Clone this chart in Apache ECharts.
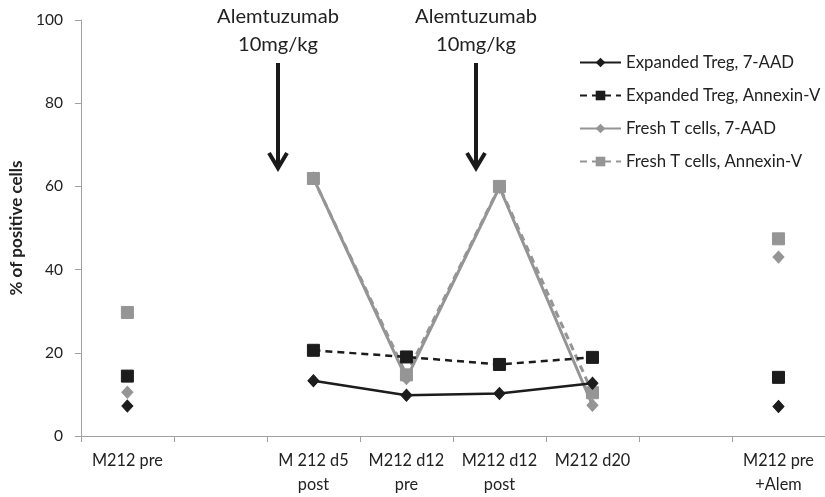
<!DOCTYPE html>
<html>
<head>
<meta charset="utf-8">
<script src="https://cdn.jsdelivr.net/npm/echarts@6/dist/echarts.min.js"></script>
<style>html,body{margin:0;padding:0;background:#fff;}#c{width:825px;height:497px;}</style>
</head>
<body>
<div id="c"></div>
<script>
var categories = ["M212 pre", "", "M 212 d5\npost", "M212 d12\npre", "M212 d12\npost", "M212 d20", "", "M212 pre\n+Alem"];
var seriesNames = ["Expanded Treg, 7-AAD", "Expanded Treg, Annexin-V", "Fresh T cells, 7-AAD", "Fresh T cells, Annexin-V"];
var tregAAD = [7.2, null, 13.3, 9.8, 10.2, 12.7, null, 7.1];
var tregAnnexin = [14.4, null, 20.6, 19.0, 17.2, 18.9, null, 14.1];
var freshAAD = [10.5, null, 62.0, 13.8, 59.8, 7.4, null, 43.0];
var freshAnnexin = [29.7, null, 61.9, 14.7, 60.0, 10.4, null, 47.4];
var yTicks = {min: 0, max: 100, interval: 20};
var yAxisTitle = "% of positive cells";
var annotations = ["Alemtuzumab\n10mg/kg", "Alemtuzumab\n10mg/kg"];

var FONT = "Lato";
var BLACK = "#1c1c1c";
var GRAY = "#959595";

// pick font sizes so that Lato text widths match the reference's Calibri text widths
var mctx = document.createElement('canvas').getContext('2d');
function fit(text, target, weight) {
  mctx.font = (weight || 'normal') + ' 100px ' + FONT;
  var w = mctx.measureText(text).width;
  return Math.round(1000 * target / w) / 10;
}
var legendSize = fit("Expanded Treg, Annexin-V", 195);
var annSize = fit("Alemtuzumab", 122);
var xLabSize = fit("M212 pre", 71);
var yLabSize = fit("100", 27);
var yNameSize = fit(yAxisTitle, 135, 'bold');

var chart = echarts.init(document.getElementById('c'), null, {renderer: 'canvas'});

function arrow(x, label) {
  return {
    type: 'group',
    children: [
      {type: 'text', x: x, y: 3, style: {text: label, font: annSize + 'px ' + FONT, fill: '#222', align: 'center', verticalAlign: 'top', lineHeight: 28}},
      {type: 'line', shape: {x1: x, y1: 63, x2: x, y2: 164}, style: {stroke: '#1a1a1a', lineWidth: 4}},
      {type: 'polyline', shape: {points: [[x - 9, 153], [x, 168], [x + 9, 153]]}, style: {stroke: '#1a1a1a', lineWidth: 4, fill: null}}
    ]
  };
}

chart.setOption({
  animation: false,
  textStyle: {fontFamily: FONT},
  grid: {left: 75, right: -5, top: 20, bottom: 59, containLabel: false},
  legend: {
    orient: 'vertical',
    left: 579,
    top: 51,
    itemWidth: 41,
    itemHeight: 12,
    itemGap: 10,
    padding: 0,
    textStyle: {fontSize: legendSize, lineHeight: 23, color: '#222', fontFamily: FONT},
    data: seriesNames
  },
  xAxis: {
    type: 'category',
    data: categories,
    boundaryGap: true,
    axisLine: {lineStyle: {color: '#a0a0a0', width: 1}},
    axisTick: {show: true, interval: 0, length: 6, lineStyle: {color: '#a0a0a0'}},
    axisLabel: {interval: 0, fontSize: xLabSize, color: '#222', lineHeight: 24, margin: 13, fontFamily: FONT}
  },
  yAxis: {
    type: 'value',
    min: yTicks.min, max: yTicks.max, interval: yTicks.interval,
    name: yAxisTitle,
    nameLocation: 'middle',
    nameGap: 52,
    nameRotate: 90,
    nameTextStyle: {fontSize: yNameSize, fontWeight: 'bold', color: '#222', fontFamily: FONT},
    axisLine: {show: true, lineStyle: {color: '#a0a0a0', width: 1}},
    axisTick: {show: true, length: 6, lineStyle: {color: '#a0a0a0'}},
    splitLine: {show: false},
    axisLabel: {fontSize: yLabSize, color: '#222', margin: 18, fontFamily: FONT}
  },
  series: [
    {name: seriesNames[0], type: 'line', data: tregAAD, z: 4, connectNulls: false,
     symbol: 'diamond', symbolSize: [11, 12],
     itemStyle: {color: BLACK, borderColor: BLACK},
     lineStyle: {color: BLACK, width: 2.5, type: 'solid'}},
    {name: seriesNames[1], type: 'line', data: tregAnnexin, z: 3, connectNulls: false,
     symbol: 'rect', symbolSize: 12,
     itemStyle: {color: BLACK, borderColor: BLACK},
     lineStyle: {color: BLACK, width: 2.5, type: [7, 5]}},
    {name: seriesNames[2], type: 'line', data: freshAAD, z: 2, connectNulls: false,
     symbol: 'diamond', symbolSize: [11, 12],
     itemStyle: {color: GRAY, borderColor: GRAY},
     lineStyle: {color: GRAY, width: 3, type: 'solid'}},
    {name: seriesNames[3], type: 'line', data: freshAnnexin, z: 2, connectNulls: false,
     symbol: 'rect', symbolSize: 12,
     itemStyle: {color: GRAY, borderColor: GRAY},
     lineStyle: {color: GRAY, width: 3, type: [7, 5]}}
  ],
  graphic: [arrow(278, annotations[0]), arrow(476, annotations[1])]
});
</script>
</body>
</html>
